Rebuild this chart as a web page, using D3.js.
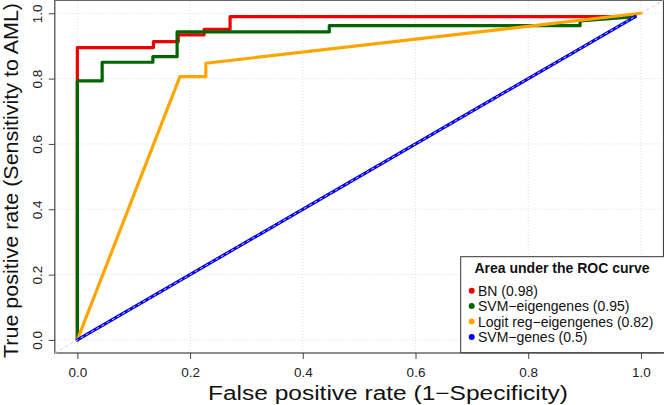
<!DOCTYPE html>
<html><head><meta charset="utf-8">
<script src="https://cdn.jsdelivr.net/npm/d3@7"></script>
<style>body{margin:0;background:#fff;} svg{display:block;font-family:"Liberation Sans",Arial,Helvetica,sans-serif;}</style>
</head><body>
<svg id="c" width="664" height="405"></svg>
<script>
// ---- data ----
const seriesNames = ["BN (0.98)", "SVM\u2212eigengenes (0.95)", "Logit reg\u2212eigengenes (0.82)", "SVM\u2212genes (0.5)"];
const seriesColors = ["#ee0000", "#006400", "#ffa500", "#0000ee"];
const fprBN = [0, 0, 0.135, 0.135, 0.179, 0.179, 0.225, 0.225, 0.271, 0.271, 0.99];
const tprBN = [0, 0.895, 0.895, 0.913, 0.913, 0.934, 0.934, 0.951, 0.951, 0.99, 0.99];
const fprSVMe = [0, 0, 0.044, 0.044, 0.134, 0.134, 0.177, 0.177, 0.447, 0.447, 0.892, 0.892, 0.99];
const tprSVMe = [0, 0.793, 0.793, 0.85, 0.85, 0.867, 0.867, 0.943, 0.943, 0.962, 0.962, 0.977, 0.99];
const fprLogit = [0, 0.182, 0.228, 0.228, 1];
const tprLogit = [0, 0.806, 0.806, 0.847, 1];
const fprSVMg = [0, 0.99];
const tprSVMg = [0, 0.99];
const tickValues = [0, 0.2, 0.4, 0.6, 0.8, 1.0];
const tickLabels = ["0.0", "0.2", "0.4", "0.6", "0.8", "1.0"];
const xTitle = "False positive rate (1\u2212Specificity)";
const yTitle = "True positive rate (Sensitivity to AML)";
const legendTitle = "Area under the ROC curve";

// ---- layout ----
const svg = d3.select("#c");
const x = d3.scaleLinear().domain([-0.04, 1.04]).range([54.8, 663.5]);
const y = d3.scaleLinear().domain([-0.04, 1.04]).range([353, 0.2]);

// grid
const grid = svg.append("g");
tickValues.forEach(v => {
  grid.append("line").attr("x1", x(v)).attr("x2", x(v)).attr("y1", y(-0.04)).attr("y2", y(1.04))
    .attr("stroke", "#dddddd").attr("stroke-width", 1).attr("stroke-dasharray", "1,2");
  grid.append("line").attr("y1", y(v)).attr("y2", y(v)).attr("x1", x(-0.04)).attr("x2", x(1.04))
    .attr("stroke", "#dddddd").attr("stroke-width", 1).attr("stroke-dasharray", "1,2");
});

// box
svg.append("rect").attr("x", x(-0.04)).attr("y", y(1.04)).attr("width", x(1.04) - x(-0.04))
  .attr("height", y(-0.04) - y(1.04)).attr("fill", "none").attr("stroke", "#444").attr("stroke-width", 1.2);

// axes
const fmt = (d, i) => tickLabels[i];
const xAxis = svg.append("g").attr("transform", `translate(0,${y(-0.04)})`)
  .call(d3.axisBottom(x).tickValues(tickValues).tickFormat(fmt).tickSize(6).tickPadding(8));
xAxis.select(".domain").remove();
xAxis.selectAll("line").attr("stroke", "#444");
xAxis.selectAll("text").attr("font-size", 13.5).attr("fill", "#222").attr("font-family", "Liberation Sans, Arial, sans-serif");

const yAxis = svg.append("g").attr("transform", `translate(${x(-0.04)},0)`)
  .call(d3.axisLeft(y).tickValues(tickValues).tickFormat(fmt).tickSize(6).tickPadding(8));
yAxis.select(".domain").remove();
yAxis.selectAll("line").attr("stroke", "#444");
yAxis.selectAll("text").attr("font-size", 13.5).attr("fill", "#222").attr("font-family", "Liberation Sans, Arial, sans-serif")
  .attr("text-anchor", "middle").attr("dy", null).attr("x", null)
  .attr("transform", "translate(-17,0) rotate(-90)").attr("dominant-baseline", "central");

// titles
svg.append("text").attr("x", 388).attr("y", 399.5).attr("text-anchor", "middle")
  .attr("font-size", 20).attr("fill", "#111")
  .attr("textLength", 360).attr("lengthAdjust", "spacingAndGlyphs").text(xTitle);
svg.append("text").attr("transform", `translate(17.5,180.5) rotate(-90)`).attr("text-anchor", "middle")
  .attr("font-size", 20).attr("fill", "#111")
  .attr("textLength", 355).attr("lengthAdjust", "spacingAndGlyphs").text(yTitle);

// curves
const line = d3.line().x(d => x(d[0])).y(d => y(d[1]));
const curves = [
  d3.zip(fprBN, tprBN),
  d3.zip(fprSVMe, tprSVMe),
  d3.zip(fprLogit, tprLogit),
  d3.zip(fprSVMg, tprSVMg)
];
curves.forEach((c, i) => {
  svg.append("path").attr("d", line(c)).attr("fill", "none").attr("stroke", seriesColors[i])
    .attr("stroke-width", 3.2).attr("stroke-linejoin", "round").attr("stroke-linecap", "round");
});

// diagonal reference
svg.append("path").attr("d", line([[-0.04, -0.04], [1.04, 1.04]])).attr("fill", "none")
  .attr("stroke", "#d9c9c9").attr("stroke-width", 1).attr("stroke-dasharray", "3,3");

// legend
const lg = svg.append("g");
lg.append("rect").attr("x", 460.7).attr("y", 256.7).attr("width", 210).attr("height", 96)
  .attr("fill", "#fff").attr("stroke", "#333").attr("stroke-width", 1);
lg.append("text").attr("x", 562).attr("y", 273).attr("text-anchor", "middle").attr("font-size", 14)
  .attr("font-weight", "bold").attr("fill", "#111").text(legendTitle);
const rowY = [295.7, 311, 326.5, 342];
seriesNames.forEach((n, i) => {
  lg.append("circle").attr("cx", 471.7).attr("cy", rowY[i] - 5).attr("r", 3).attr("fill", seriesColors[i]);
  lg.append("text").attr("x", 478).attr("y", rowY[i]).attr("font-size", 14).attr("fill", "#111").text(n);
});
</script>
</body></html>
